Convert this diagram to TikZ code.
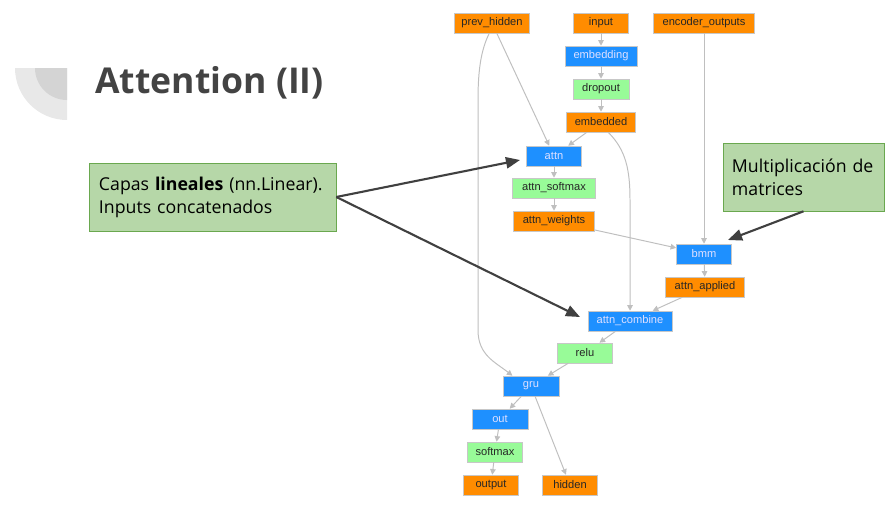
\documentclass[tikz,border=0pt]{standalone}
\usepackage{fontspec}
\setmainfont{Liberation Sans}
\newfontfamily\slidefont{Open Sans}
\usetikzlibrary{arrows.meta}
\definecolor{graphorange}{HTML}{FF8C00}
\definecolor{graphblue}{HTML}{1E90FF}
\definecolor{graphgreen}{HTML}{98FB98}
\definecolor{notegreen}{HTML}{B6D7A8}
\definecolor{noteborder}{HTML}{6AA84F}
\definecolor{titlegray}{HTML}{434343}
\tikzset{
	op/.style={draw=black!22, minimum height=0.5cm, inner sep=0pt, font=\fontsize{7.9}{9}\selectfont},
	var/.style={op, fill=graphorange, text=black!85},
	layer/.style={op, fill=graphblue, text=white!88!blue},
	act/.style={op, fill=graphgreen, text=black!85},
	link/.style={draw=black!25, line width=0.7pt, -{Triangle[length=4pt,width=4pt]}},
	remark/.style={draw=noteborder, fill=notegreen, align=left, inner xsep=0.25cm, minimum height=1.7cm, font=\slidefont\fontsize{12.6}{16.4}\selectfont},
	pointer/.style={draw=black!75, line width=1.5pt, -{Triangle[length=10pt,width=8pt]}}
}
\begin{document}
\begin{tikzpicture}[x=0.025cm,y=-0.025cm]
	\useasboundingbox (0,0) rectangle (892,506);
	
	\begin{scope}
		\clip (15,68) rectangle (67,121);
		\fill[black!9] (67,68) circle (52);
		\fill[black!17] (67,68) circle (32);
	\end{scope}
	\node[anchor=base west, inner sep=0pt, text=titlegray, font=\slidefont\bfseries\fontsize{25.3}{30}\selectfont] (title) at (95,93) {Attention (II)};
	
	\node[var, minimum width=1.875cm] (prevhidden) at (492,23) {prev\_hidden};
	\node[var, minimum width=1.375cm] (input) at (601,23) {input};
	\node[var, minimum width=2.525cm] (encoder) at (704,23) {encoder\_outputs};
	\node[layer, minimum width=1.8cm] (embedding) at (601,56) {embedding};
	\node[act, minimum width=1.4cm] (dropout) at (601,89) {dropout};
	\node[var, minimum width=1.725cm] (embedded) at (601,122) {embedded};
	\node[layer, minimum width=1.375cm] (attn) at (554,156) {attn};
	\node[act, minimum width=2.075cm] (attnsoftmax) at (554,188) {attn\_softmax};
	\node[var, minimum width=2.025cm] (attnweights) at (554,221) {attn\_weights};
	\node[layer, minimum width=1.375cm] (bmm) at (704,254) {bmm};
	\node[var, minimum width=1.975cm] (attnapplied) at (705,287) {attn\_applied};
	\node[layer, minimum width=2.1cm] (attncombine) at (630,321) {attn\_combine};
	\node[act, minimum width=1.375cm] (relu) at (585,353) {relu};
	\node[layer, minimum width=1.4cm] (gru) at (531,386) {gru};
	\node[layer, minimum width=1.4cm] (out) at (500,419) {out};
	\node[act, minimum width=1.375cm] (softmax) at (495,452) {softmax};
	\node[var, minimum width=1.375cm] (output) at (491,485) {output};
	\node[var, minimum width=1.375cm] (hidden) at (570,485) {hidden};
	
	\draw[link] (input) -- (embedding);
	\draw[link] (embedding) -- (dropout);
	\draw[link] (dropout) -- (embedded);
	\draw[link] (prevhidden) -- (attn);
	\draw[link] (embedded) -- (attn);
	\draw[link] (attn) -- (attnsoftmax);
	\draw[link] (attnsoftmax) -- (attnweights);
	\draw[link] (encoder) -- (bmm);
	\draw[link] (attnweights) -- (bmm);
	\draw[link] (bmm) -- (attnapplied);
	\draw[link] (embedded.-55) .. controls (626,150) and (630,170) .. (630,200) -- (attncombine.north);
	\draw[link] (attnapplied) -- (attncombine);
	\draw[link] (attncombine) -- (relu);
	\draw[link] (prevhidden.-105) .. controls (481,50) and (478,70) .. (478,100) -- (478,330) .. controls (478,355) and (495,362) .. (gru.151);
	\draw[link] (relu) -- (gru);
	\draw[link] (gru) -- (out);
	\draw[link] (gru) -- (hidden);
	\draw[link] (out) -- (softmax);
	\draw[link] (softmax) -- (output);
	
	\node[remark, text width=5.675cm] (capas) at (212.5,197) {Capas \textbf{lineales} (nn.Linear).\\Inputs concatenados};
	\node[remark, text width=3.575cm, inner xsep=0.225cm] (mult) at (803.5,177) {Multiplicación de\\matrices};
	\coordinate (attntip) at (520,160);
	\coordinate (combinetip) at (580,317);
	\coordinate (bmmtip) at (728,240);
	\draw[pointer] (capas.east) -- (attntip);
	\draw[pointer] (capas.east) -- (combinetip);
	\draw[pointer] (mult.south) -- (bmmtip);
\end{tikzpicture}
\end{document}
